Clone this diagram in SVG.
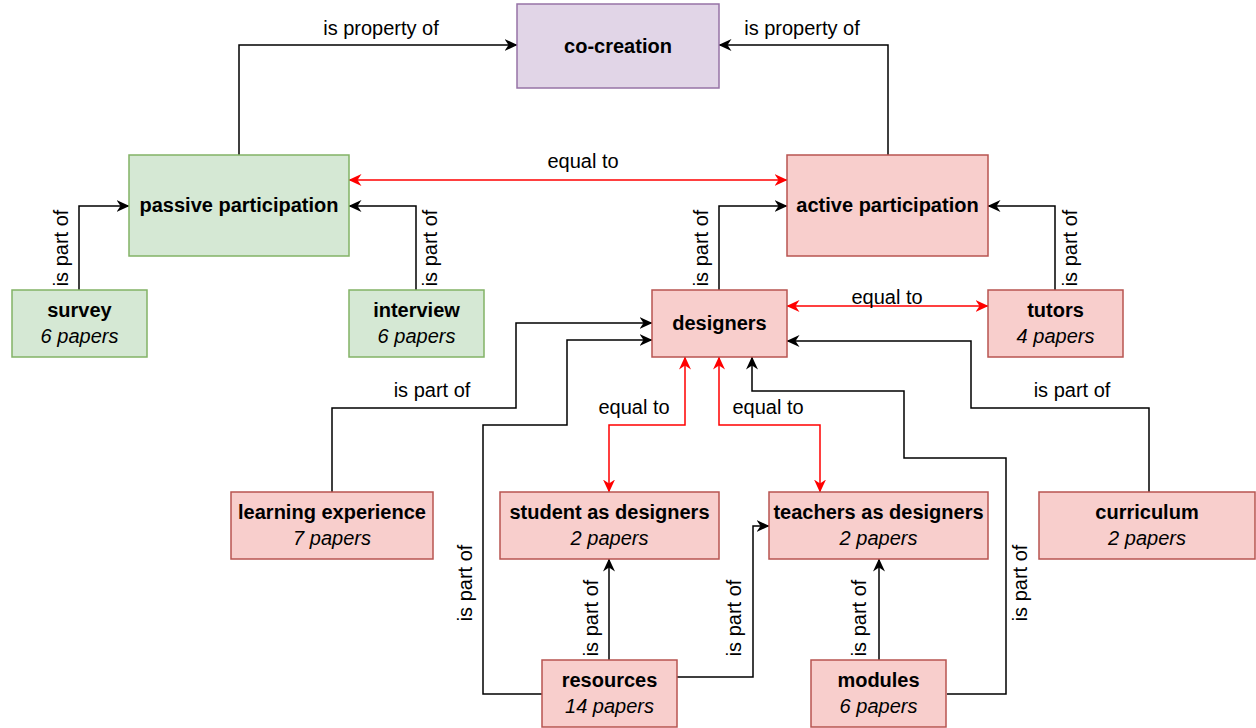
<svg xmlns="http://www.w3.org/2000/svg" width="1256" height="728" viewBox="0 0 1256 728">
<style>
.n rect{stroke-width:1.5}
.g rect{fill:#d5e8d4;stroke:#82b366}
.r rect{fill:#f8cecc;stroke:#b85450}
.p rect{fill:#e1d5e7;stroke:#9673a6}
text{font-family:"Liberation Sans",Arial,sans-serif;font-size:20px;fill:#000;text-anchor:middle}
.b{font-weight:bold}
.i{font-style:italic}
.c path{fill:none;stroke-width:1.5}
.k{stroke:#000;marker-end:url(#ak)}
.red{stroke:#ff0000;marker-end:url(#ar);marker-start:url(#ar)}
</style>
<defs>
<marker id="ak" viewBox="0 0 13 12" refX="12.5" refY="6" markerWidth="13" markerHeight="12" orient="auto-start-reverse" markerUnits="userSpaceOnUse"><path d="M0,0 L13,6 L0,12 L4,6 Z" fill="#000"/></marker>
<marker id="ar" viewBox="0 0 13 12" refX="12.5" refY="6" markerWidth="13" markerHeight="12" orient="auto-start-reverse" markerUnits="userSpaceOnUse"><path d="M0,0 L13,6 L0,12 L4,6 Z" fill="#ff0000"/></marker>
</defs>
<rect width="1256" height="728" fill="#fff"/>
<g id="connectors" class="c">
<path class="k" d="M239,155 V45 H517"/>
<path class="k" d="M888,155 V45 H719"/>
<path class="red" d="M349,180 H787"/>
<path class="k" d="M79,290 V206 H129"/>
<path class="k" d="M416,290 V206 H349"/>
<path class="k" d="M719,290 V206 H787"/>
<path class="k" d="M1055,290 V206 H988"/>
<path class="red" d="M787,306 H988"/>
<path class="k" d="M332,492 V408 H516 V323 H652"/>
<path class="k" d="M542,694 H483 V425 H567 V340 H652"/>
<path class="red" d="M685,357 V425 H609 V492"/>
<path class="red" d="M719,357 V425 H820 V492"/>
<path class="k" d="M947,694 H1006 V458 H904 V391 H752 V357"/>
<path class="k" d="M1149,492 V408 H971 V341 H787"/>
<path class="k" d="M609,661 V559"/>
<path class="k" d="M677,677 H753 V526 H769"/>
<path class="k" d="M879,661 V559"/>
<text x="381" y="35">is property of</text>
<text x="802" y="35">is property of</text>
<text x="583" y="168">equal to</text>
<text x="887" y="304">equal to</text>
<text x="634" y="414">equal to</text>
<text x="768" y="414">equal to</text>
<text x="432" y="397">is part of</text>
<text x="1072" y="397">is part of</text>
<text transform="translate(68,248) rotate(-90)">is part of</text>
<text transform="translate(437,248) rotate(-90)">is part of</text>
<text transform="translate(708,248) rotate(-90)">is part of</text>
<text transform="translate(1077,248) rotate(-90)">is part of</text>
<text transform="translate(472,583) rotate(-90)">is part of</text>
<text transform="translate(598,618) rotate(-90)">is part of</text>
<text transform="translate(741,618) rotate(-90)">is part of</text>
<text transform="translate(866,618) rotate(-90)">is part of</text>
<text transform="translate(1027,583) rotate(-90)">is part of</text>
</g>
<g id="co-creation" class="n p"><rect x="517" y="4" width="202" height="84"/><text class="b" x="618" y="53">co-creation</text></g>
<g id="passive" class="n g"><rect x="129" y="155" width="220" height="101"/><text class="b" x="239" y="212">passive participation</text></g>
<g id="active" class="n r"><rect x="787" y="155" width="201" height="101"/><text class="b" x="887.5" y="212">active participation</text></g>
<g id="survey" class="n g"><rect x="12" y="290" width="135" height="67"/><text class="b" x="79.5" y="317">survey</text><text class="i" x="79.5" y="343">6 papers</text></g>
<g id="interview" class="n g"><rect x="349" y="290" width="135" height="67"/><text class="b" x="416.5" y="317">interview</text><text class="i" x="416.5" y="343">6 papers</text></g>
<g id="designers" class="n r"><rect x="652" y="290" width="135" height="67"/><text class="b" x="719.5" y="330">designers</text></g>
<g id="tutors" class="n r"><rect x="988" y="290" width="135" height="67"/><text class="b" x="1055.5" y="317">tutors</text><text class="i" x="1055.5" y="343">4 papers</text></g>
<g id="learning" class="n r"><rect x="231" y="492" width="202" height="67"/><text class="b" x="332" y="519">learning experience</text><text class="i" x="332" y="545">7 papers</text></g>
<g id="student" class="n r"><rect x="500" y="492" width="219" height="67"/><text class="b" x="609.5" y="519">student as designers</text><text class="i" x="609.5" y="545">2 papers</text></g>
<g id="teachers" class="n r"><rect x="769" y="492" width="219" height="67"/><text class="b" x="878.5" y="519">teachers as designers</text><text class="i" x="878.5" y="545">2 papers</text></g>
<g id="curriculum" class="n r"><rect x="1039" y="492" width="216" height="67"/><text class="b" x="1147" y="519">curriculum</text><text class="i" x="1147" y="545">2 papers</text></g>
<g id="resources" class="n r"><rect x="542" y="660" width="135" height="67"/><text class="b" x="609.5" y="687">resources</text><text class="i" x="609.5" y="713">14 papers</text></g>
<g id="modules" class="n r"><rect x="811" y="660" width="135" height="67"/><text class="b" x="878.5" y="687">modules</text><text class="i" x="878.5" y="713">6 papers</text></g>
</svg>
